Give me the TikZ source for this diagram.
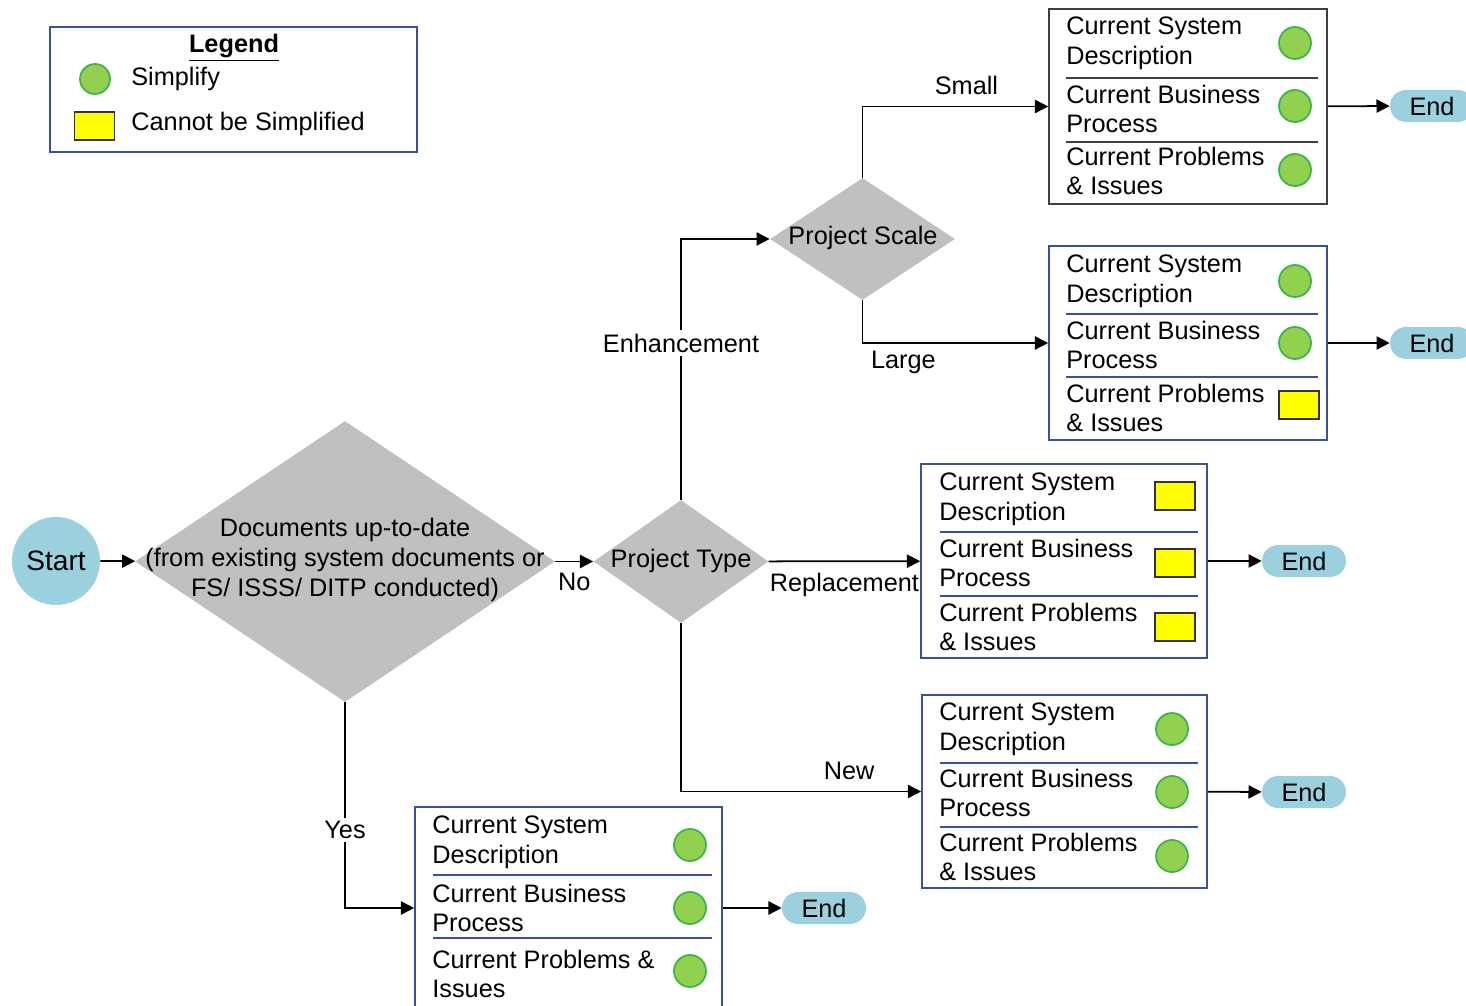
\documentclass[tikz,border=0pt]{standalone}
\usepackage{fontspec}
\setmainfont{Liberation Sans}
\usetikzlibrary{shapes.geometric,arrows.meta}
\definecolor{boxblue}{RGB}{58,82,148}
\definecolor{boxgray}{RGB}{64,64,64}
\definecolor{termblue}{RGB}{155,208,222}
\definecolor{decgray}{RGB}{192,192,192}
\definecolor{simplegreen}{RGB}{146,208,80}
\definecolor{simpleedge}{RGB}{60,180,75}
\definecolor{fixedyellow}{RGB}{255,255,0}
\begin{document}
\begin{tikzpicture}[x=0.02cm,y=-0.02cm,font=\fontsize{14.4}{17}\selectfont,
   link/.style={line width=1pt,-{Triangle[length=7.5pt,width=7.5pt]}},
   decision/.style={diamond,fill=decgray,inner sep=0pt},
   infobox/.style={rectangle,draw=boxblue,line width=1pt,inner sep=0pt},
   divider/.style={draw=boxblue,line width=1pt},
   rowtext/.style={anchor=west,align=left,inner sep=0pt},
   simple/.style={circle,fill=simplegreen,draw=simpleedge,line width=1pt,minimum size=0.64cm,inner sep=0pt},
   fixed/.style={rectangle,fill=fixedyellow,draw=black!80,line width=1pt,minimum width=0.8cm,minimum height=0.56cm,inner sep=0pt},
   endnode/.style={rectangle,rounded corners=0.32cm,fill=termblue,minimum width=1.68cm,minimum height=0.64cm,inner sep=0pt},
   tag/.style={inner sep=6pt}]
   \useasboundingbox (0,0) rectangle (1466,1006);
   % legend
   \node (legend) at (233.5,89.5) [rectangle,draw=boxblue,line width=1pt,minimum width=7.34cm,minimum height=2.5cm] {};
   \node (legendtitle) at (234,48) {\underline{\textbf{Legend}}};
   \node (legsimple) at (95,79) [simple,minimum size=0.6cm] {};
   \node (legfixed) at (94.5,126) [fixed] {};
   \node (legsimpletext) at (131,79) [rowtext] {Simplify};
   \node (legfixedtext) at (131,124) [rowtext] {Cannot be Simplified};
   % start and decisions
   \node (start) at (56,561) [circle,fill=termblue,minimum size=1.76cm,inner sep=0pt] {\fontsize{16}{19}\selectfont Start};
   \node (docs) at (345,561.5) [decision,minimum width=8.4cm,minimum height=5.62cm] {};
   \node (docstext) at (345,560) [align=center,inner sep=0pt] {Documents up-to-date\\(from existing system documents or\\FS/ ISSS/ DITP conducted)};
   \node (ptype) at (681,561.5) [decision,minimum width=3.5cm,minimum height=2.46cm] {};
   \node (ptypetext) at (681,561) {Project Type};
   \node (pscale) at (862.5,239) [decision,minimum width=3.7cm,minimum height=2.44cm] {};
   \node (pscaletext) at (863,238) {Project Scale};
   % box 1: small enhancement
   \node (box1) at (1188,106.5) [infobox,draw=boxgray,minimum width=5.56cm,minimum height=3.9cm] {};
   \node (box1a) at (1066,43) [rowtext] {Current System\\Description};
   \node (box1b) at (1066,109) [rowtext] {Current Business\\Process};
   \node (box1c) at (1066,171) [rowtext] {Current Problems\\\& Issues};
   \node (mark1a) at (1295,43) [simple] {};
   \node (mark1b) at (1295,106) [simple] {};
   \node (mark1c) at (1295,170) [simple] {};
   \draw[divider,draw=boxgray] (1066,78) -- (1318,78);
   \draw[divider,draw=boxgray] (1066,142) -- (1318,142);
   % box 2: large enhancement
   \node (box2) at (1188,343) [infobox,minimum width=5.56cm,minimum height=3.88cm] {};
   \node (box2a) at (1066,281) [rowtext] {Current System\\Description};
   \node (box2b) at (1066,345) [rowtext] {Current Business\\Process};
   \node (box2c) at (1066,408) [rowtext] {Current Problems\\\& Issues};
   \node (mark2a) at (1295,281) [simple] {};
   \node (mark2b) at (1295,343) [simple] {};
   \node (mark2c) at (1299,405) [fixed] {};
   \draw[divider] (1066,314) -- (1318,314);
   \draw[divider] (1066,377) -- (1318,377);
   % box 3: replacement
   \node (box3) at (1064,561) [infobox,minimum width=5.72cm,minimum height=3.88cm] {};
   \node (box3a) at (939,499) [rowtext] {Current System\\Description};
   \node (box3b) at (939,563) [rowtext] {Current Business\\Process};
   \node (box3c) at (939,627) [rowtext] {Current Problems\\\& Issues};
   \node (mark3a) at (1175,496) [fixed] {};
   \node (mark3b) at (1175,563) [fixed] {};
   \node (mark3c) at (1175,627) [fixed] {};
   \draw[divider] (940,532) -- (1198,532);
   \draw[divider] (940,596) -- (1198,596);
   % box 4: new
   \node (box4) at (1064.5,791.5) [infobox,minimum width=5.7cm,minimum height=3.86cm] {};
   \node (box4a) at (939,729) [rowtext] {Current System\\Description};
   \node (box4b) at (939,793) [rowtext] {Current Business\\Process};
   \node (box4c) at (939,857) [rowtext] {Current Problems\\\& Issues};
   \node (mark4a) at (1172,729) [simple] {};
   \node (mark4b) at (1172,792) [simple] {};
   \node (mark4c) at (1172,856) [simple] {};
   \draw[divider] (940,763) -- (1198,763);
   \draw[divider] (940,827) -- (1198,827);
   % box 5: documents up-to-date
   \node (box5) at (568.5,908) [infobox,minimum width=6.14cm,minimum height=4.04cm] {};
   \node (box5a) at (432,842) [rowtext] {Current System\\Description};
   \node (box5b) at (432,908) [rowtext] {Current Business\\Process};
   \node (box5c) at (432,974) [rowtext] {Current Problems \&\\Issues};
   \node (mark5a) at (690,845) [simple] {};
   \node (mark5b) at (690,908) [simple] {};
   \node (mark5c) at (690,971) [simple] {};
   \draw[divider] (433,875) -- (712,875);
   \draw[divider] (433,938) -- (712,938);
   % ends
   \node (end1) at (1432,106) [endnode] {End};
   \node (end2) at (1432,343) [endnode] {End};
   \node (end3) at (1304,561) [endnode] {End};
   \node (end4) at (1304,792) [endnode] {End};
   \node (end5) at (824,908) [endnode] {End};
   % connectors
   \draw[link] (start) -- (docs);
   \draw[link] (docs) -- node[tag,below] {No} (ptype);
   \draw[link] (docs.south) |- node[pos=0.31,inner sep=2pt,fill=white] {Yes} (box5.west);
   \draw[link] (ptype.north) |- node[pos=0.3,inner sep=2pt,fill=white] {Enhancement} (pscale.west);
   \draw[link] (ptype) -- node[tag,below] {Replacement} (box3);
   \draw[link] (ptype.south) |- node[pos=0.85,tag,above] {New} (box4.west);
   \draw[link] (pscale.north) |- node[pos=0.78,tag,above] {Small} (box1.west);
   \draw[link] (pscale.south) |- node[pos=0.61,tag,below,inner sep=4pt] {Large} (box2.west);
   \draw[link] (box1) -- (end1);
   \draw[link] (box2) -- (end2);
   \draw[link] (box3) -- (end3);
   \draw[link] (box4) -- (end4);
   \draw[link] (box5) -- (end5);
\end{tikzpicture}
\end{document}
